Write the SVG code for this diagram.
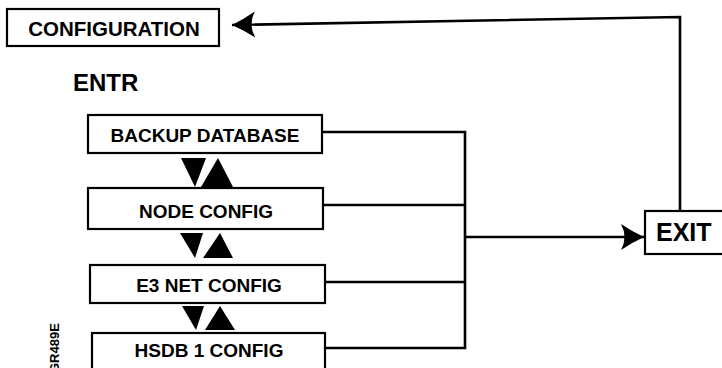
<svg xmlns="http://www.w3.org/2000/svg" width="722" height="368" viewBox="0 0 722 368">
  <style>
    .box { fill: #fff; stroke: #000; stroke-width: 2.2; }
    .wire { fill: none; stroke: #000; stroke-width: 2.6; stroke-linejoin: miter; }
    .lbl { font-family: "Liberation Sans", Arial, Helvetica, sans-serif; font-weight: bold; fill: #000; }
    .menu { font-size: 19px; text-anchor: middle; }
    .nav { fill: #000; }
  </style>
  <defs>
    <marker id="head" markerUnits="userSpaceOnUse" markerWidth="26" markerHeight="28" refX="24" refY="14" orient="auto">
      <path d="M24,14 Q13,9 1,1 Q8,14 1,27 Q13,19 24,14 Z" fill="#000"/>
    </marker>
  </defs>

  <rect width="722" height="368" fill="#fff"/>

  <!-- connectors -->
  <g id="connectors">
    <!-- menu items join a common bus -->
    <path class="wire" d="M322,132 H465 V348 H325"/>
    <path class="wire" d="M323,205 H465"/>
    <path class="wire" d="M325,282 H465"/>
    <!-- bus to EXIT -->
    <path class="wire" d="M465,237 H644" marker-end="url(#head)"/>
    <!-- EXIT back to CONFIGURATION -->
    <path class="wire" d="M680,211 V17 L232,25" marker-end="url(#head)"/>
  </g>

  <g id="configuration">
    <rect class="box" x="7" y="9" width="212" height="37"/>
    <text class="lbl" x="114" y="36" font-size="20.5" text-anchor="middle">CONFIGURATION</text>
  </g>

  <g id="entr-label">
    <text class="lbl" x="73" y="91" font-size="24">ENTR</text>
  </g>

  <g id="backup-database">
    <rect class="box" x="88" y="115" width="234" height="38"/>
    <text class="lbl menu" x="205" y="142">BACKUP DATABASE</text>
  </g>

  <g id="node-config">
    <rect class="box" x="88" y="188" width="235" height="41"/>
    <text class="lbl menu" x="206" y="218">NODE CONFIG</text>
  </g>

  <g id="e3-net-config">
    <rect class="box" x="90" y="265" width="235" height="38"/>
    <text class="lbl menu" x="209" y="292">E3 NET CONFIG</text>
  </g>

  <g id="hsdb-1-config">
    <rect class="box" x="92" y="333" width="233" height="50"/>
    <text class="lbl menu" x="209" y="357">HSDB 1 CONFIG</text>
  </g>

  <g id="exit">
    <rect class="box" x="645" y="211" width="90" height="43"/>
    <text class="lbl" x="656" y="241" font-size="25">EXIT</text>
  </g>

  <!-- down / up scroll keys between menu items -->
  <g id="scroll-keys">
    <polygon class="nav" points="181,158 206,158 195,187"/>
    <polygon class="nav" points="218,158 201,187 233,187"/>
    <polygon class="nav" points="180,233 203,233 195,258"/>
    <polygon class="nav" points="220,233 203,258 233,258"/>
    <polygon class="nav" points="182,306 204,306 196,330"/>
    <polygon class="nav" points="220,306 205,330 235,330"/>
  </g>

  <text class="lbl" font-size="13" transform="translate(59,373) rotate(-90)">GR489E</text>
</svg>
